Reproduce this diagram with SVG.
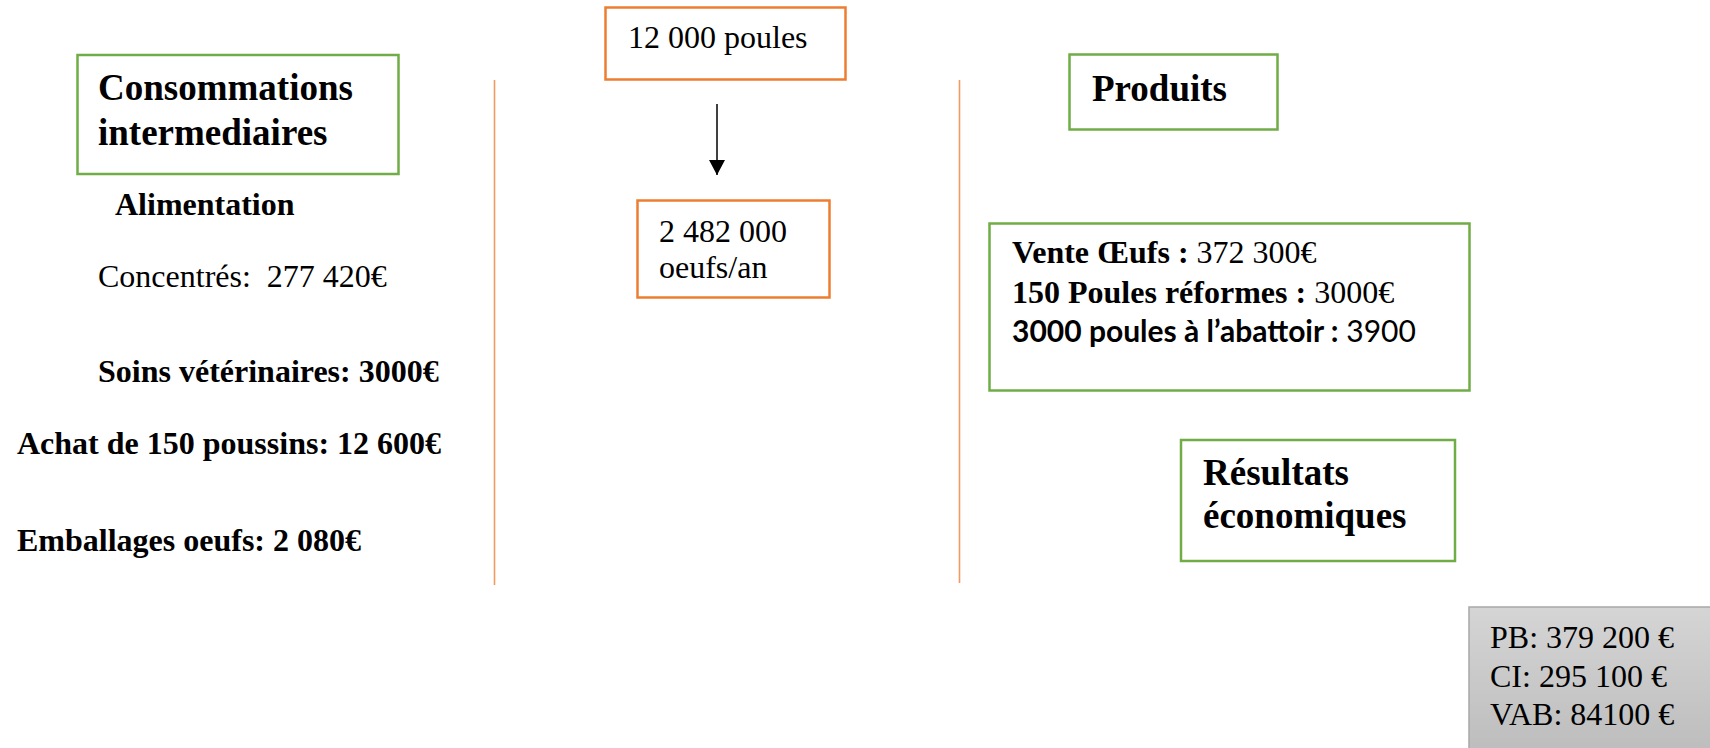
<svg xmlns="http://www.w3.org/2000/svg" width="1710" height="748" viewBox="0 0 1710 748">
<style>
.t{font-family:"Liberation Serif","Times New Roman",serif;font-size:32px;fill:#000}
.b{font-weight:bold}
.h{font-family:"Liberation Serif","Times New Roman",serif;font-size:37px;font-weight:bold;fill:#000}
.c{font-family:Lato,"Open Sans",sans-serif;font-size:30px;fill:#000}
.green{fill:#fff;stroke:#70AD47;stroke-width:2.5}
.orange{fill:#fff;stroke:#ED7D31;stroke-width:2.5}
.div{stroke:#F19A62;stroke-width:1.6}
</style>
<defs>
<marker id="arr" markerWidth="16" markerHeight="16" refX="15" refY="8" orient="auto" markerUnits="userSpaceOnUse" viewBox="0 0 16 16">
<path d="M0,0 L15,8 L0,16 Z" fill="#000"/>
</marker>
<linearGradient id="gray" x1="0" y1="0" x2="0" y2="1">
<stop offset="0" stop-color="#d5d5d5"/>
<stop offset="1" stop-color="#bdbdbd"/>
</linearGradient>
</defs>
<rect width="1710" height="748" fill="#fff"/>
<g id="dividers">
<line class="div" x1="494.5" y1="80" x2="494.5" y2="585"/>
<line class="div" x1="959.5" y1="80" x2="959.5" y2="583"/>
</g>
<g id="connectors">
<line x1="717" y1="104" x2="717" y2="175" stroke="#000" stroke-width="1.5" marker-end="url(#arr)"/>
</g>
<g id="ci-header">
<rect class="green" x="77.5" y="55" width="321" height="119"/>
<text class="h" x="98" y="100">Consommations</text>
<text class="h" x="98" y="145">intermediaires</text>
</g>
<g id="ci-items">
<text class="t b" x="115" y="215">Alimentation</text>
<text class="t" x="98" y="287" xml:space="preserve">Concentrés:  277 420€</text>
<text class="t b" x="98" y="382">Soins vétérinaires: 3000€</text>
<text class="t b" x="17" y="454">Achat de 150 poussins: 12 600€</text>
<text class="t b" x="17" y="551">Emballages oeufs: 2 080€</text>
</g>
<g id="poules">
<rect class="orange" x="605.5" y="7.5" width="240" height="72"/>
<text class="t" x="628" y="48">12 000 poules</text>
</g>
<g id="oeufs">
<rect class="orange" x="637.5" y="200.5" width="192" height="97"/>
<text class="t" x="659" y="242">2 482 000</text>
<text class="t" x="659" y="278">oeufs/an</text>
</g>
<g id="produits-header">
<rect class="green" x="1069.5" y="54.5" width="208" height="75"/>
<text class="h" x="1092" y="101">Produits</text>
</g>
<g id="produits-items">
<rect class="green" x="989.5" y="223.5" width="480" height="167"/>
<text class="t" x="1012" y="263"><tspan class="b">Vente Œufs :</tspan> 372 300€</text>
<text class="t" x="1012" y="303"><tspan class="b">150 Poules réformes :</tspan> 3000€</text>
<text class="c" x="1012" y="342"><tspan font-weight="bold">3000 poules à l’abattoir :</tspan> 3900</text>
</g>
<g id="resultats-header">
<rect class="green" x="1181" y="440" width="274" height="121"/>
<text class="h" x="1203" y="485">Résultats</text>
<text class="h" x="1203" y="528">économiques</text>
</g>
<g id="resultats">
<rect x="1469" y="607" width="245" height="145" fill="url(#gray)" stroke="#a8a8a8" stroke-width="1.5"/>
<text class="t" x="1490" y="648">PB: 379 200 €</text>
<text class="t" x="1490" y="687">CI: 295 100 €</text>
<text class="t" x="1490" y="725">VAB: 84100 €</text>
</g>
</svg>
